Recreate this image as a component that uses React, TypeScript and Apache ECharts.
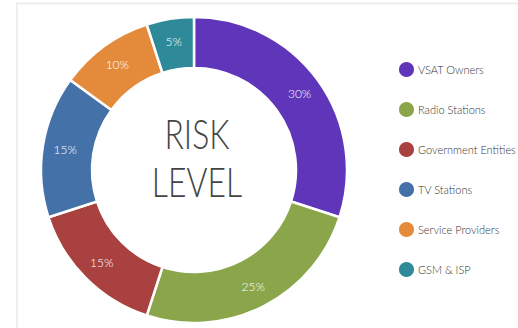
import React, { useEffect, useRef } from "react";
import * as echarts from "echarts";

const categories = ["VSAT Owners", "Radio Stations", "Government Entities", "TV Stations", "Service Providers", "GSM & ISP"];
const values = [30, 25, 15, 15, 10, 5];
const colors = ["#5f36ba", "#8aa54a", "#a8413f", "#4471a8", "#e38b3b", "#2e8a98"];
const centerLines = ["RISK", "LEVEL"];

export default function App() {
  const ref = useRef<HTMLDivElement>(null);
  useEffect(() => {
    if (!ref.current) return;
    const chart = echarts.init(ref.current, null, { renderer: "svg" });
    chart.setOption({
      animation: false,
      color: colors,
      graphic: [
        {
          type: "rect",
          shape: { x: 17, y: 3.5, width: 600, height: 400 },
          style: { fill: "none", stroke: "#eeeeee", lineWidth: 2 },
          z: -1,
        },
        {
          type: "text",
          x: 197,
          y: 109,
          originX: 0,
          originY: 0,
          scaleX: 0.76,
          style: {
            text: centerLines.join("\n"),
            font: "300 42px Lato",
            fill: "#444444",
            textAlign: "center",
            lineHeight: 48,
          },
        },
      ],
      legend: {
        orient: "vertical",
        left: 392,
        top: 55,
        icon: "circle",
        itemWidth: 17,
        itemHeight: 17,
        itemGap: 21,
        textStyle: { fontFamily: "Lato", fontWeight: 300, fontSize: 11, color: "#333333", lineHeight: 14, padding: [0, 0, 0, -2] },
        data: categories,
      },
      series: [
        {
          type: "pie",
          center: [194, 170],
          radius: [102, 153],
          startAngle: 90,
          clockwise: true,
          itemStyle: { borderColor: "#ffffff", borderWidth: 2.5 },
          label: {
            show: true,
            position: "inside",
            formatter: "{c}%",
            color: "#ffffff",
            fontFamily: "Lato",
            fontWeight: 300,
            fontSize: 12,
          },
          labelLine: { show: false },
          emphasis: { disabled: true },
          data: categories.map((c, i) => ({ name: c, value: values[i] })),
        },
      ],
    });
    return () => chart.dispose();
  }, []);
  return <div ref={ref} style={{ width: 518, height: 328, position: "absolute", left: 0, top: 0 }} />;
}
